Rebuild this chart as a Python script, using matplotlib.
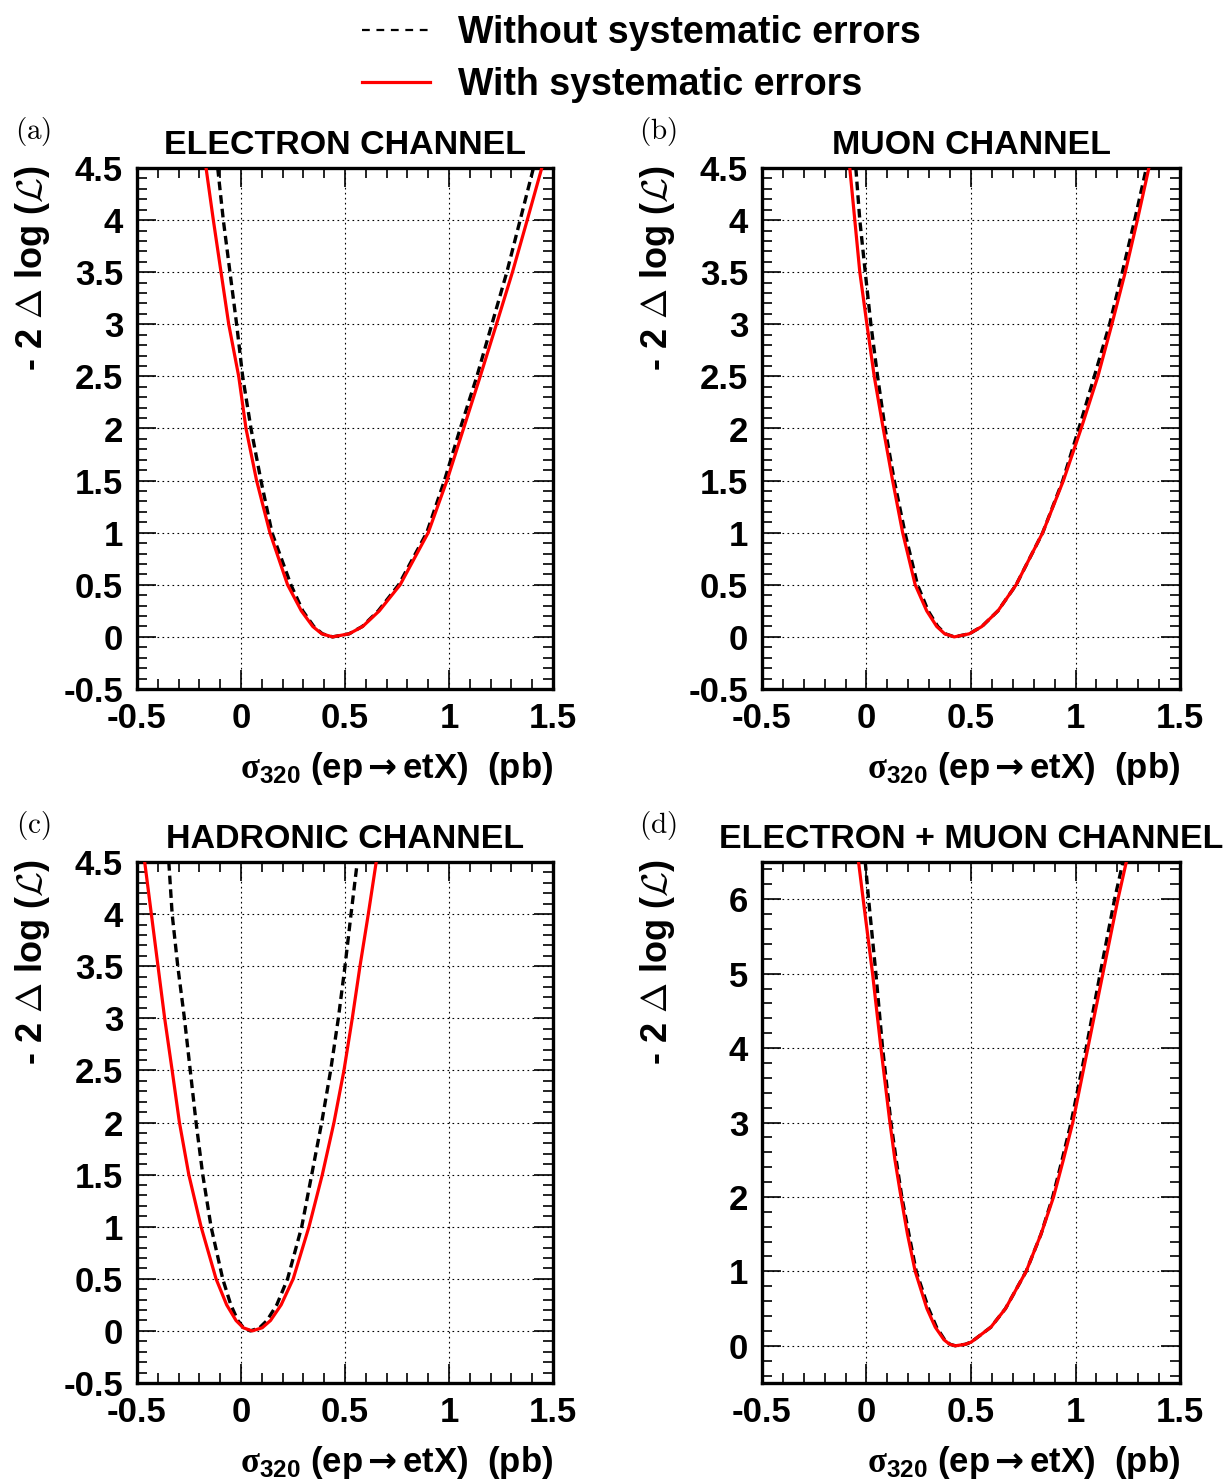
import matplotlib
matplotlib.use('Agg')
import matplotlib.pyplot as plt
from matplotlib.lines import Line2D
from matplotlib.ticker import FixedLocator, MultipleLocator

plt.rcParams['font.family'] = ['Liberation Sans', 'DejaVu Sans']
plt.rcParams['font.weight'] = 'bold'
plt.rcParams['mathtext.fontset'] = 'custom'
plt.rcParams['mathtext.rm'] = 'Liberation Serif'
plt.rcParams['mathtext.it'] = 'Liberation Serif:italic'
plt.rcParams['mathtext.bf'] = 'Liberation Sans:bold'
plt.rcParams['mathtext.sf'] = 'DejaVu Sans'

# ---- values ----
# common y levels for the (a)-(c) scans, left branch -> minimum -> right branch
lvl_45 = [4.5, 4.0, 3.5, 3.0, 2.5, 2.0, 1.5, 1.0, 0.5, 0.25, 0.1, 0.03,
          0.0, 0.03, 0.1, 0.25, 0.5, 1.0, 1.5, 2.0, 2.5, 3.0, 3.5, 4.0, 4.5]

# (a) electron channel
a_sys_x = [-0.168, -0.133, -0.096, -0.059, -0.011, 0.024, 0.075, 0.139, 0.224, 0.290, 0.345, 0.388,
           0.440, 0.520, 0.585, 0.665, 0.765, 0.900, 0.990, 1.070, 1.150, 1.228, 1.305, 1.376, 1.446]
a_sys_y = lvl_45
a_stat_x = [-0.112, -0.085, -0.053, -0.021, 0.008, 0.048, 0.096, 0.149, 0.240, 0.297, 0.350, 0.391,
            0.440, 0.520, 0.583, 0.660, 0.758, 0.893, 0.978, 1.054, 1.134, 1.206, 1.278, 1.342, 1.406]
a_stat_y = lvl_45

# (b) muon channel
b_sys_x = [-0.080, -0.056, -0.032, 0.002, 0.037, 0.080, 0.125, 0.173, 0.233, 0.288, 0.336, 0.374,
           0.420, 0.492, 0.552, 0.629, 0.716, 0.843, 0.942, 1.027, 1.107, 1.174, 1.238, 1.296, 1.351]
b_sys_y = lvl_45
b_stat_x = [-0.051, -0.032, -0.006, 0.021, 0.053, 0.089, 0.133, 0.184, 0.244, 0.295, 0.341, 0.377,
            0.420, 0.492, 0.552, 0.629, 0.716, 0.843, 0.939, 1.016, 1.090, 1.163, 1.224, 1.283, 1.339]
b_stat_y = lvl_45

# (c) hadronic channel
c_sys_x = [-0.463, -0.431, -0.399, -0.367, -0.331, -0.296, -0.251, -0.192, -0.120, -0.069, -0.024, 0.011,
           0.053, 0.102, 0.142, 0.193, 0.251, 0.327, 0.391, 0.447, 0.495, 0.535, 0.572, 0.612, 0.650]
c_sys_y = lvl_45
c_stat_x = [-0.347, -0.331, -0.304, -0.272, -0.244, -0.216, -0.184, -0.144, -0.088, -0.049, -0.015, 0.012,
            0.045, 0.089, 0.125, 0.172, 0.224, 0.292, 0.340, 0.388, 0.431, 0.468, 0.500, 0.529, 0.559]
c_stat_y = lvl_45

# (d) electron + muon channel
lvl_65 = [6.5, 6.0, 5.0, 4.0, 3.0, 2.5, 2.0, 1.5, 1.0, 0.5, 0.25, 0.08, 0.02,
          0.0, 0.02, 0.05, 0.25, 0.5, 1.0, 1.5, 2.0, 2.5, 3.0, 4.0, 5.0, 6.0, 6.5]
d_sys_x = [-0.038, -0.016, 0.029, 0.069, 0.112, 0.136, 0.165, 0.196, 0.233, 0.289, 0.329, 0.371, 0.398,
           0.425, 0.473, 0.501, 0.595, 0.665, 0.764, 0.835, 0.895, 0.942, 0.987, 1.059, 1.131, 1.203, 1.243]
d_sys_y = lvl_65
d_stat_x = [-0.006, 0.010, 0.045, 0.077, 0.117, 0.142, 0.169, 0.203, 0.238, 0.297, 0.335, 0.374, 0.400,
            0.425, 0.473, 0.501, 0.595, 0.665, 0.764, 0.835, 0.891, 0.936, 0.979, 1.051, 1.118, 1.187, 1.227]
d_stat_y = lvl_65

titles = ['ELECTRON CHANNEL', 'MUON CHANNEL', 'HADRONIC CHANNEL', 'ELECTRON + MUON CHANNEL']
tags = ['(a)', '(b)', '(c)', '(d)']
x_ticks = [-0.5, 0, 0.5, 1, 1.5]
x_ticklabels = ['-0.5', '0', '0.5', '1', '1.5']
y_ticks = [-0.5, 0, 0.5, 1, 1.5, 2, 2.5, 3, 3.5, 4, 4.5]
y_ticklabels = ['-0.5', '0', '0.5', '1', '1.5', '2', '2.5', '3', '3.5', '4', '4.5']
y_ticks_d = [0, 1, 2, 3, 4, 5, 6]
y_ticklabels_d = ['0', '1', '2', '3', '4', '5', '6']

curves = [(a_stat_x, a_stat_y, a_sys_x, a_sys_y),
          (b_stat_x, b_stat_y, b_sys_x, b_sys_y),
          (c_stat_x, c_stat_y, c_sys_x, c_sys_y),
          (d_stat_x, d_stat_y, d_sys_x, d_sys_y)]

W, H = 1223, 1483
fig = plt.figure(figsize=(W / 100, H / 100), dpi=100)

# axes boxes in pixels: left, top, right, bottom
boxes = [(137, 168, 553, 689), (762, 168, 1180, 689),
         (137, 862, 553, 1383), (762, 862, 1180, 1383)]

for i, (l, t, r, b) in enumerate(boxes):
    ax = fig.add_axes([l / W, 1 - b / H, (r - l) / W, (b - t) / H])
    sx, sy, wx, wy = curves[i]
    ax.plot(sx, sy, color='black', lw=2.4, ls=(0, (2.6, 1.5)), zorder=3)
    ax.plot(wx, wy, color='red', lw=2.3, zorder=4)

    ax.set_xlim(-0.5, 1.5)
    ax.xaxis.set_major_locator(FixedLocator(x_ticks))
    ax.set_xticklabels(x_ticklabels)
    ax.xaxis.set_minor_locator(MultipleLocator(0.1))
    if i == 3:
        ax.set_ylim(-0.5, 6.5)
        ax.yaxis.set_major_locator(FixedLocator(y_ticks_d))
        ax.set_yticklabels(y_ticklabels_d)
        ax.yaxis.set_minor_locator(MultipleLocator(0.2))
    else:
        ax.set_ylim(-0.5, 4.5)
        ax.yaxis.set_major_locator(FixedLocator(y_ticks))
        ax.set_yticklabels(y_ticklabels)
        ax.yaxis.set_minor_locator(MultipleLocator(0.1))

    ax.tick_params(which='both', direction='in', top=True, right=True, labelsize=25)
    ax.tick_params(which='major', length=14, width=1.2)
    ax.tick_params(which='minor', length=7, width=1.2)
    ax.tick_params(axis='x', pad=9)
    ax.tick_params(axis='y', pad=10)
    for lab in ax.get_xticklabels() + ax.get_yticklabels():
        lab.set_fontweight('bold')
    for sp in ax.spines.values():
        sp.set_linewidth(2.4)
    ax.grid(True, which='major', color='black', ls=(0, (1.5, 3)), lw=0.8)

    ax.set_title(titles[i], fontsize=24.5, fontweight='bold', pad=10)
    ax.text(-0.25, 1.071, r'$\mathrm{' + tags[i] + '}$', transform=ax.transAxes,
            ha='center', va='center', fontsize=21, math_fontfamily='cm')
    ax.text(-0.25, 1.005, r'- 2 $\Delta$ log ($\mathcal{L}$)', transform=ax.transAxes,
            rotation=90, ha='center', va='top', fontsize=26, fontweight='bold',
            math_fontfamily='cm')
    ax.text(1.0, -0.152, r'$\mathrm{\sigma}_{\mathbf{320}}$ (ep$\mathsf{\rightarrow}$etX)  (pb)',
            transform=ax.transAxes, ha='right', va='center', fontsize=25, fontweight='bold')

handles = [Line2D([], [], color='black', lw=1.6, ls=(0, (3.5, 3))),
           Line2D([], [], color='red', lw=2.3)]
fig.legend(handles, ['Without systematic errors', 'With systematic errors'],
           loc='upper left', bbox_to_anchor=(362 / W, 1 - 15 / H), frameon=False,
           prop={'size': 27, 'weight': 'bold'}, handlelength=1.8, handletextpad=0.75,
           labelspacing=0.42, borderpad=0, borderaxespad=0)

fig.savefig('out.png', dpi=100)
